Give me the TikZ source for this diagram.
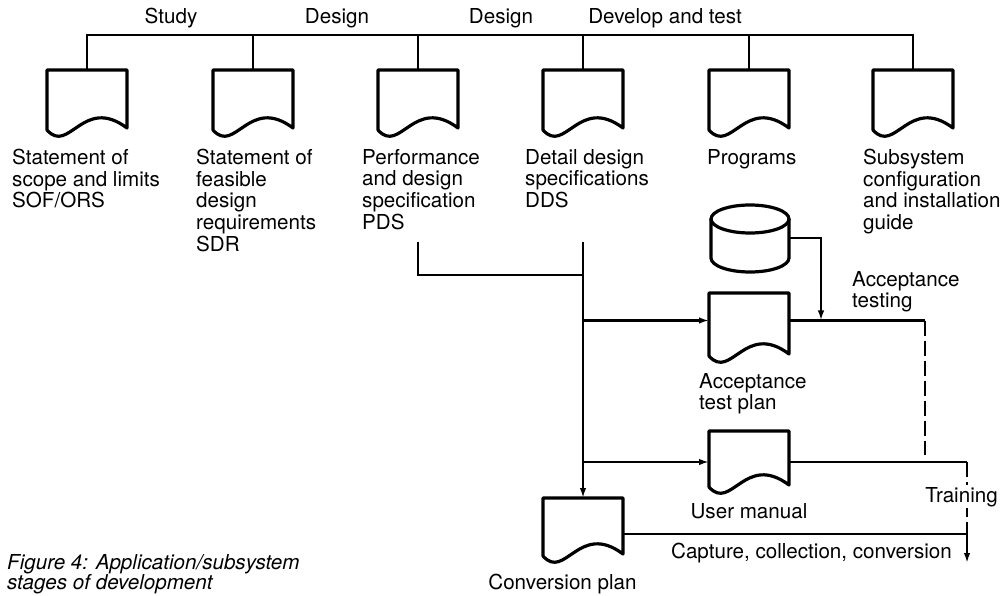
\documentclass[tikz,border=0pt]{standalone}
\usepackage{fontspec}
\setmainfont{TeX Gyre Heros}
\usetikzlibrary{arrows.meta}

% outline of a "document" symbol drawn around an (invisible) node
\newcommand\docoutline[1]{%
  \draw[docline] ([shift={(0,-6)}]#1.south west) -- (#1.north west) -- (#1.north east)
    -- ([shift={(0,-8)}]#1.south east)
    .. controls ([shift={(36,-41)}]#1.south west) and ([shift={(22,19)}]#1.south west)
    .. cycle;}

\begin{document}
\begin{tikzpicture}[x=1pt,y=-1pt,
  docnode/.style={rectangle,minimum width=80pt,minimum height=#1,inner sep=0pt,outer sep=0pt},
  docnode/.default=66pt,
  docline/.style={line width=3.2pt,line join=round},
  conn/.style={line width=2pt},
  arr/.style={-{Latex[length=10pt,width=6.5pt]}},
  brokenline/.style={conn,dash pattern=on 15pt off 5pt},
  lbl/.style={inner sep=0pt,anchor=north west,align=left,font=\fontsize{20.6}{21.7}\selectfont},
  txt/.style={inner sep=0pt,font=\fontsize{20.6}{21.7}\selectfont},
]
\useasboundingbox (0,0) rectangle (1002,596);

% phase headings
\node[txt,anchor=base] (hstudy) at (171,24) {Study};
\node[txt,anchor=base] (hdesign1) at (337,24) {Design};
\node[txt,anchor=base] (hdesign2) at (501,24) {Design};
\node[txt,anchor=base] (hdevelop) at (665,24) {Develop and test};

% deliverable documents
\node[docnode] (d1) at (87,103) {};
\node[docnode] (d2) at (253,103) {};
\node[docnode] (d3) at (418,103) {};
\node[docnode] (d4) at (583,103) {};
\node[docnode] (d5) at (749,103) {};
\node[docnode] (d6) at (913,103) {};
\foreach \d in {d1,d2,d3,d4,d5,d6} {\docoutline{\d}}

\node[lbl] (l1) at (12,149) {Statement of\\scope and limits\\SOF/ORS};
\node[lbl] (l2) at (196,149) {Statement of\\feasible\\design\\requirements\\SDR};
\node[lbl] (l3) at (362,149) {Performance\\and design\\specification\\PDS};
\node[lbl] (l4) at (525,149) {Detail design\\specifications\\DDS};
\node[lbl] (l5) at (707,149) {Programs};
\node[lbl] (l6) at (863,149) {Subsystem\\configuration\\and installation\\guide};

% bus joining the documents
\coordinate (bus) at (0,35);
\draw[conn] (d1.north) -- (d1.north |- bus) -- (d6.north |- bus) -- (d6.north);
\foreach \d in {d2,d3,d4,d5} {\draw[conn] (\d.north) -- (\d.north |- bus);}

% test data store
\node[rectangle,minimum width=78pt,minimum height=67pt,inner sep=0pt,outer sep=0pt] (db) at (750,238.5) {};
\draw[docline] ([shift={(0,14)}]db.north) ellipse [x radius=39, y radius=14];
\draw[docline] ([shift={(0,14)}]db.north west) -- ([shift={(0,-14)}]db.south west)
  arc[start angle=180, end angle=0, x radius=39, y radius=14] -- ([shift={(0,14)}]db.north east);

% lower documents
\node[docnode=69pt] (at) at (749,327.5) {};
\node[docnode=62pt] (um) at (749,462) {};
\node[docnode=64pt] (cp) at (583,530) {};
\docoutline{at}
\docoutline{um}
\docoutline{cp}

\node[lbl] (atl) at (699,373) {Acceptance\\test plan};
\node[lbl] (atst) at (852,271) {Acceptance\\testing};
\node[txt,anchor=base] (uml) at (749,518) {User manual};
\node[txt,anchor=base] (cap) at (811.5,558) {Capture, collection, conversion};
\node[txt,anchor=base] (cpl) at (562.5,589) {Conversion plan};

% flow from the specifications
\coordinate (pdsout) at (418,242);
\coordinate (ddsout) at (583,242);
\coordinate (join) at (583,275);
\coordinate (atin) at ([shift={(0,-7)}]at.west);
\coordinate (atout) at ([shift={(0,-7)}]at.east);
\coordinate (atjoin) at ([shift={(32,-7)}]at.east);
\coordinate (atcorner) at ([shift={(136,-7)}]at.east);
\coordinate (umcorner) at ([shift={(178,0)}]um.east);
\coordinate (cpout) at ([shift={(0,4)}]cp.east);
\coordinate (capend) at (967,563);

\draw[conn] (pdsout) |- (join);
\draw[conn,arr] (ddsout) -- (cp.north);
\draw[conn,arr] (ddsout |- atin) -- (atin);
\draw[conn,arr] (ddsout |- um.west) -- (um.west);
\draw[conn,arr] (db.east) -| (atjoin);
\draw[conn] (atout) -- (atcorner);
\draw[brokenline] (atcorner) -- ([shift={(0,-7)}]atcorner |- um.east);
\draw[conn] (um.east) -- (umcorner);
\draw[brokenline] (umcorner) -- (umcorner |- cpout);
\draw[conn,arr] (cpout) -| (capend);
\node[txt,anchor=base,fill=white,inner sep=2pt] (tr) at (961.5,502) {Training};

% caption
\node[lbl,font=\fontsize{20.6}{20}\selectfont\itshape] (fig) at (7,554) {Figure 4: Application/subsystem\\stages of development};
\end{tikzpicture}
\end{document}
